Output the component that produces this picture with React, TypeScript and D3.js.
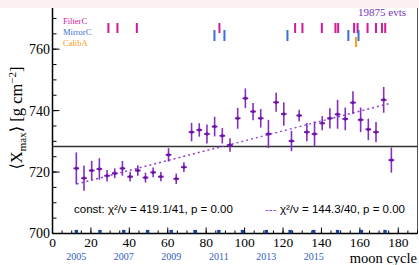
import React from "react";
import * as d3 from "d3";

// moon-cycle bins and mean Xmax per bin
const cycles = [
  12.4, 16.4, 20.4, 24.4, 28.4, 32.4, 36.4, 40.4, 44.4, 48.4, 52.4, 56.4, 60.4, 64.4,
  68.4, 72.4, 76.4, 80.4, 84.4, 88.4, 92.4, 96.4, 100.4, 104.4, 108.4, 112.4, 116.4,
  120.4, 124.4, 128.4, 132.4, 136.4, 140.4, 144.4, 148.4, 152.4, 156.4, 160.4, 164.4,
  168.4, 172.4, 176.4,
];
const xmax = [
  721.2, 718.0, 720.5, 721.0, 718.8, 719.6, 721.2, 718.5, 720.5, 718.2, 719.9, 718.5,
  725.6, 717.8, 721.6, 733.0, 733.7, 732.4, 734.8, 731.8, 728.8, 737.5, 744.0, 739.7,
  737.5, 732.4, 742.7, 738.9, 730.1, 738.4, 733.0, 732.4, 735.9, 737.5, 738.8, 737.3,
  742.6, 737.0, 733.9, 733.0, 743.5, 723.9,
];
const xmaxErr = [
  5.2, 4.1, 3.1, 3.5, 1.9, 1.6, 2.4, 1.6, 1.7, 1.6, 1.6, 1.5, 2.2, 1.7, 1.6, 3.0, 2.2,
  3.1, 3.2, 2.5, 2.2, 3.4, 3.2, 2.8, 3.0, 4.6, 3.1, 3.8, 3.3, 1.9, 3.0, 4.1, 2.3, 3.3,
  4.7, 3.7, 3.7, 4.0, 3.5, 3.3, 4.2, 4.1,
];

// fits
const constLevel = 728.3;
const fitCycles = [12.6, 175.8];
const fitValues = [716.1, 742.4];

// calendar years on the axis
const yearCycles = [
  12.4, 24.7, 37.1, 49.5, 61.8, 74.2, 86.6, 98.9, 111.3, 123.7, 136.0, 148.4, 160.8, 173.1,
];
const years = [2005, 2006, 2007, 2008, 2009, 2010, 2011, 2012, 2013, 2014, 2015, 2016, 2017, 2018];
const yearLabels = [2005, 2007, 2009, 2011, 2013, 2015];

// detector events
const filterC = [29.1, 33.8, 43.9, 86.9, 126.3, 130.1, 140.2, 147.3, 148.7, 157.0, 158.8, 164.0, 168.4, 171.5, 173.2];
const mirrorC = [84.3, 89.5, 122.3, 154.0, 159.3];
const calibA = [158.0];

const xTicks = [0, 20, 40, 60, 80, 100, 120, 140, 160, 180];
const yTicks = [700, 720, 740, 760];

const W = 419;
const H = 265;
const serif = "'Liberation Serif', 'DejaVu Serif', serif";
const sans = "'Liberation Sans', Arial, sans-serif";
const purple = "#6f14a8";

const App: React.FC = () => {
  const x = d3.scaleLinear().domain([0, 190]).range([52.5, 417.5]);
  const y = d3.scaleLinear().domain([700, 773.4]).range([233.5, 8]);

  const minorX = d3.range(0, 191, 5);
  const minorY = d3.range(700, 773, 5);

  const fitLine = d3
    .line<number>()
    .x((_, i) => x(fitCycles[i]))
    .y((d) => y(d))(fitValues);

  const events = [
    { name: "FilterC", list: filterC, color: "#d21a9a", y0: 23, y1: 33 },
    { name: "MirrorC", list: mirrorC, color: "#3b6fd6", y0: 30, y1: 41 },
    { name: "CalibA", list: calibA, color: "#f5a020", y0: 37, y1: 47 },
  ];

  return (
    <svg width={W} height={H} style={{ position: "absolute", left: 0, top: 0 }}>
      <rect x={0} y={0} width={W} height={H} fill="#fff" />
      <rect x={0} y={0} width={W} height={8} fill="#fdf0f3" />

      {/* frame */}
      <line x1={x(0)} x2={x(0)} y1={y(773.4)} y2={y(700)} stroke="#000" strokeWidth={1.5} />
      <line x1={x(0)} x2={x(190)} y1={y(700)} y2={y(700)} stroke="#000" strokeWidth={1.5} />
      <line x1={x(190)} x2={x(190)} y1={y(773.4)} y2={y(700)} stroke="#555" strokeWidth={1} />

      {/* y ticks */}
      {minorY.map((v) => (
        <line key={"my" + v} x1={x(0)} x2={x(0) + 4} y1={y(v)} y2={y(v)} stroke="#000" strokeWidth={1} />
      ))}
      {yTicks.map((v) => (
        <g key={"y" + v}>
          <line x1={x(0)} x2={x(0) + 7} y1={y(v)} y2={y(v)} stroke="#000" strokeWidth={1} />
          <text x={50} y={y(v)} dy="0.35em" textAnchor="end" fontFamily={serif} fontSize={14}>
            {v}
          </text>
        </g>
      ))}

      {/* x ticks */}
      {minorX.map((v) => (
        <line key={"mx" + v} x1={x(v)} x2={x(v)} y1={y(700)} y2={y(700) - 3} stroke="#000" strokeWidth={1} />
      ))}
      {xTicks.map((v) => (
        <g key={"x" + v}>
          <line x1={x(v)} x2={x(v)} y1={y(700)} y2={y(700) - 6} stroke="#000" strokeWidth={1} />
          <text x={x(v)} y={247} textAnchor="middle" fontFamily={serif} fontSize={13.5}>
            {v}
          </text>
        </g>
      ))}

      {/* years */}
      {yearCycles.map((c, i) => (
        <rect key={"yr" + years[i]} x={x(c) - 1.7} y={y(700) - 3.6} width={3.4} height={3.4} fill="#1c3f9c" />
      ))}
      {yearLabels.map((yr) => (
        <text
          key={"yl" + yr}
          x={x(yearCycles[years.indexOf(yr)])}
          y={260}
          textAnchor="middle"
          fontFamily={serif}
          fontSize={10}
          fill="#2f5cc0"
        >
          {yr}
        </text>
      ))}
      <text x={417} y={262.5} textAnchor="end" fontFamily={serif} fontSize={14.5}>
        moon cycle
      </text>

      {/* y title */}
      <text
        transform={`translate(22,118) rotate(-90)`}
        textAnchor="middle"
        fontFamily={serif}
        fontSize={16.5}
      >
        ⟨X<tspan fontSize={11} dy={4}>max</tspan>
        <tspan dy={-4}>⟩ [g cm</tspan>
        <tspan fontSize={11} dy={-6}>−2</tspan>
        <tspan dy={6}>]</tspan>
      </text>

      {/* event markers */}
      {events.map((ev, k) => (
        <g key={ev.name}>
          <text x={63} y={24 + k * 11} fontFamily={serif} fontSize={8.5} fill={ev.color}>
            {ev.name}
          </text>
          {ev.list.map((c, i) => (
            <rect key={i} x={x(c) - 1} y={ev.y0} width={2} height={ev.y1 - ev.y0} fill={ev.color} />
          ))}
        </g>
      ))}
      <text x={406} y={16} textAnchor="end" fontFamily={serif} fontSize={11} fill="#7a34b8">
        19875 evts
      </text>

      {/* constant fit */}
      <line x1={x(0)} x2={x(190)} y1={y(constLevel)} y2={y(constLevel)} stroke="#333" strokeWidth={1.5} />
      {/* linear fit */}
      <path d={fitLine || ""} fill="none" stroke="#8e44d0" strokeWidth={1.5} strokeDasharray="2,3" />

      {/* data */}
      {cycles.map((c, i) => (
        <g key={"p" + i}>
          <line
            x1={x(c)}
            x2={x(c)}
            y1={y(xmax[i] - xmaxErr[i])}
            y2={y(xmax[i] + xmaxErr[i])}
            stroke="#8530bd"
            strokeWidth={1.6}
          />
          <line x1={x(c) - 2.8} x2={x(c) + 2.8} y1={y(xmax[i])} y2={y(xmax[i])} stroke={purple} strokeWidth={1.8} />
          <rect x={x(c) - 1.2} y={y(xmax[i]) - 1.5} width={2.4} height={3} fill={purple} />
        </g>
      ))}

      {/* stats */}
      <text x={74} y={213} fontFamily={sans} fontSize={11.5}>
        const: χ²/ν = 419.1/41, p = 0.00
      </text>
      <text x={265} y={213} fontFamily={sans} fontSize={11.5} fill="#8e44d0">
        ---
      </text>
      <text x={280} y={213} fontFamily={sans} fontSize={11.5}>
        χ²/ν = 144.3/40, p = 0.00
      </text>
    </svg>
  );
};

export default App;
